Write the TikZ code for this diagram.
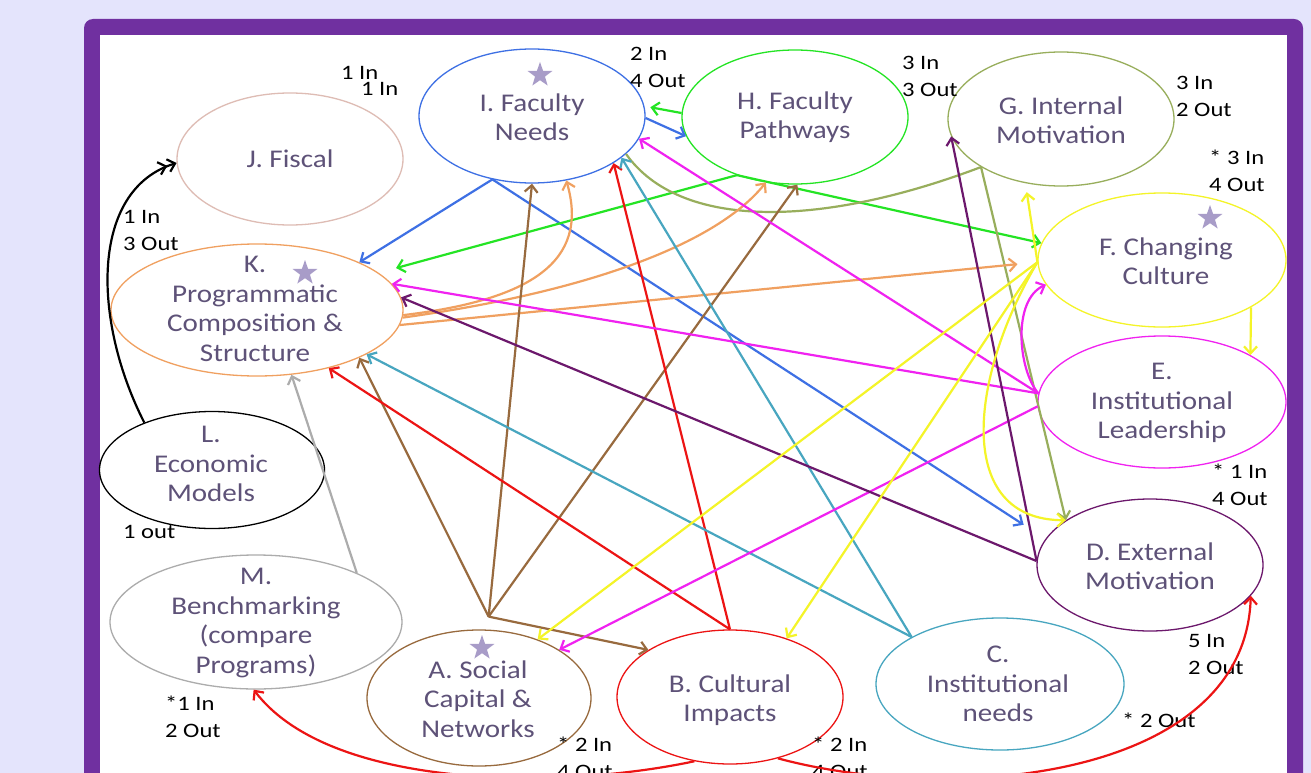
\documentclass[tikz,border=0pt]{standalone}
\usepackage{fontspec}
\setmainfont{Carlito}
\newfontfamily\ellfont{Carlito}[FakeStretch=1.14]
\newfontfamily\cntfont{Carlito}[FakeStretch=1.2]
\usetikzlibrary{arrows.meta,shapes.geometric}
\definecolor{bgcol}{RGB}{228,228,252}
\definecolor{framecol}{RGB}{112,48,160}
\definecolor{txtcol}{RGB}{94,82,120}
\definecolor{starcol}{RGB}{168,156,200}
\definecolor{jcol}{RGB}{222,188,180}
\definecolor{icol}{RGB}{62,112,228}
\definecolor{hcol}{RGB}{36,228,36}
\definecolor{gcol}{RGB}{152,174,92}
\definecolor{fcol}{RGB}{244,244,40}
\definecolor{ecol}{RGB}{240,34,240}
\definecolor{dcol}{RGB}{108,24,108}
\definecolor{ccol}{RGB}{72,166,192}
\definecolor{bcol}{RGB}{236,20,20}
\definecolor{acol}{RGB}{152,106,62}
\definecolor{mcol}{RGB}{172,172,172}
\definecolor{kcol}{RGB}{240,160,96}
\begin{document}
\begin{tikzpicture}
		[	x=1pt,y=-1pt,
		ell/.style={ellipse,draw=#1,line width=1.3pt,inner sep=0pt},
		txt/.style={text=txtcol,font=\ellfont\fontsize{25.5}{29.5}\selectfont,align=center,inner sep=0pt},
		cnt/.style={font=\cntfont\fontsize{20.5}{27}\selectfont,align=left,inner sep=0pt,anchor=west},
		starmark/.style={star,star points=5,star point ratio=2.5,fill=starcol,minimum size=26pt,inner sep=0pt},
		link/.style={draw=#1,line width=2.2pt,-{Straight Barb[length=7pt,width=13pt]}},
		plainlink/.style={draw=#1,line width=2.2pt}
		]
		\clip (0,0) rectangle (1311,773);
		\fill[bgcol] (0,0) rectangle (1311,773);
		\fill[framecol,rounded corners=9pt] (84,19) rectangle (1303,820);
		\fill[white] (100,35) rectangle (1287,820);

		\node[ell=jcol,minimum width=226pt,minimum height=132pt] (J) at (290,159){};
		\node[ell=icol,minimum width=226pt,minimum height=134pt] (I) at (532,116){};
		\node[ell=hcol,minimum width=226pt,minimum height=134pt] (H) at (795,117){};
		\node[ell=gcol,minimum width=226pt,minimum height=134pt] (G) at (1061,119){};
		\node[ell=fcol,minimum width=248pt,minimum height=134pt] (F) at (1162,260){};
		\node[ell=ecol,minimum width=248pt,minimum height=132pt] (E) at (1162,402){};
		\node[ell=dcol,minimum width=226pt,minimum height=132pt] (D) at (1150,565){};
		\node[ell=ccol,minimum width=248pt,minimum height=132pt] (C) at (1000,684){};
		\node[ell=bcol,minimum width=226pt,minimum height=134pt] (B) at (730,697){};
		\node[ell=acol,minimum width=224pt,minimum height=136pt] (A) at (479,698){};
		\node[ell=mcol,minimum width=292pt,minimum height=134pt] (M) at (256,622){};
		\node[ell=black,minimum width=225pt,minimum height=117pt] (L) at (212,470){};
		\node[ell=kcol,minimum width=292pt,minimum height=132pt] (K) at (257,310){};

\node[txt] (tJ) at (290,159){J. Fiscal};
\node[txt] (tI) at (532,117){I. Faculty\\Needs};
\node[txt] (tH) at (795,117){H. Faculty\\Pathways};
\node[txt] (tG) at (1061,120){G. Internal\\Motivation};
\node[txt] (tF) at (1166,261){F. Changing\\Culture};
\node[txt] (tE) at (1162,403){E.\\Institutional\\Leadership};
\node[txt] (tD) at (1150,566){D. External\\Motivation};
\node[txt] (tC) at (998,684){C.\\Institutional\\needs};
\node[txt] (tB) at (730,700){B. Cultural\\Impacts};
\node[txt] (tA) at (478,699){A. Social\\Capital \&\\Networks};
\node[txt] (tM) at (256,623){M.\\Benchmarking\\(compare\\Programs)};
\node[txt] (tL) at (211,464){L.\\Economic\\Models};
\node[txt] (tK) at (255,309){K.\\Programmatic\\Composition \&\\Structure};

\node[starmark] (sI) at (540,75){};
\node[starmark] (sF) at (1210,218){};
\node[starmark] (sK) at (305,273){};
\node[starmark] (sA) at (482,648){};

\node[cnt] (cJa) at (341,73){1 In};
\node[cnt] (cJb) at (361,89){1 In};
\node[cnt] (cI) at (630,67.5){2 In\\4 Out};
\node[cnt] (cH) at (902,76){3 In\\3 Out};
\node[cnt] (cG) at (1176,96){3 In\\2 Out};
\node[cnt] (cF) at (1209,170.5){* 3 In\\4 Out};
\node[cnt] (cK) at (123,230.5){1 In\\3 Out};
\node[cnt] (cE) at (1212,484.5){* 1 In\\4 Out};
\node[cnt] (cL) at (123,532){1 out};
\node[cnt] (cD) at (1188,654.5){5 In\\2 Out};
\node[cnt] (cC) at (1122,720){* 2 Out};
\node[cnt] (cM) at (165,717){*1 In\\2 Out};
\node[cnt] (cA) at (557,757.5){* 2 In\\4 Out};
\node[cnt] (cB) at (812,757.5){* 2 In\\4 Out};

	\coordinate (hubA) at ([yshift=13pt]A.82);

	\draw[line width=2.2pt,-{Straight Barb[length=7pt,width=13pt]Straight Barb[length=7pt,width=13pt]}] (L.145) .. controls (92,320) and (90,190) .. (J.182);
	\draw[link=mcol] (M.26) -- (K.298);

	\draw[link=icol] (I.238) -- (K.25);
	\draw[link=icol,shorten >=26pt] (I.238) -- (D.166);
	\draw[link=icol] (I.-1) -- (H.190);

	\draw[link=hcol,shorten >=6pt] (H.178) -- (I.5);
	\draw[link=hcol,shorten >=18pt] (H.225) -- (K.17);
	\draw[link=hcol] (H.225) -- (F.172);

	\draw[plainlink=gcol] (G.211) .. controls (820,228) and (680,230) .. (I.-22);
	\draw[link=gcol] (G.211) -- (D.152);

	\draw[link=kcol] (K.-2) .. controls (530,300) and (590,262) .. (I.298);
	\draw[link=kcol] (K.-3) .. controls (600,290) and (720,240) .. (H.246);
	\draw[link=kcol,shorten >=20pt] (K.-6) -- (F.181);

	\draw[link=acol] (hubA) -- (I.270);
	\draw[link=acol] (hubA) -- (H.272);
	\draw[link=acol] (hubA) -- (K.335);
	\draw[link=acol] (hubA) -- (B.150);

	\draw[link=bcol] (B.90) -- (K.321);
	\draw[link=bcol] (B.90) -- (I.330);
	\draw[link=bcol] (B.241) .. controls (560,790) and (330,790) .. (M.268);
	\draw[link=bcol] (B.308) .. controls (950,805) and (1245,780) .. (D.343);

	\draw[link=ccol] (C.152) -- (K.338);
	\draw[link=ccol] (C.152) -- (I.-25);

	\draw[link=ecol] (E.176) -- (I.348);
	\draw[link=ecol] (E.176) -- (K.11);
	\draw[link=ecol] (E.182) -- (A.31);
	\draw[link=ecol] (E.176) .. controls (1018,370) and (1012,300) .. (F.192);

	\draw[link=dcol] (D.178) -- (K.5);
	\draw[link=dcol] (D.178) -- (G.189);

	\draw[link=fcol,shorten >=9pt] (F.181) -- (G.241);
	\draw[link=fcol] (F.181) -- (A.45);
	\draw[link=fcol] (F.181) -- (B.46);
	\draw[link=fcol] (F.181) .. controls (968,380) and (955,520) .. (D.152);
	\draw[link=fcol] (F.332) -- (E.28);
	\end{tikzpicture}
\end{document}
